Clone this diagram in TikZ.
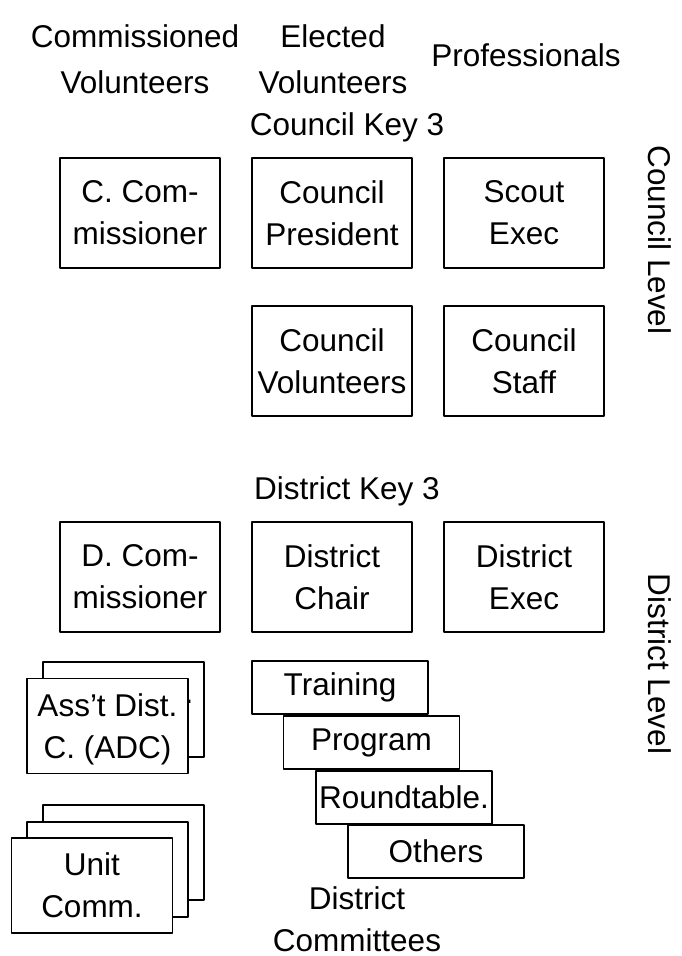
\documentclass[tikz,border=0pt]{standalone}
\usepackage{fontspec}
\setmainfont{Liberation Sans}
\usetikzlibrary{positioning}

\begin{document}
\begin{tikzpicture}[x=1pt,y=-1pt,line join=round,
  txt/.style={align=center,inner sep=0pt,font=\fontsize{31.5}{42}\selectfont},
  head/.style={txt,font=\fontsize{31.5}{46}\selectfont},
  box/.style={txt,draw,line width=1.5pt,fill=white,minimum width=160pt,minimum height=110pt},
  stackbox/.style={box,minimum width=161pt,minimum height=95pt},
  combox/.style={box,minimum width=176pt,minimum height=53pt}]
\useasboundingbox (0,0) rectangle (682,956);
% column heads
\node[head] (commvol) at (135,59) {Commissioned\\Volunteers};
\node[head] (electvol) at (333,59) {Elected\\Volunteers};
\node[txt] (prof) at (526,55) {Professionals};
% council level
\node[txt] (ckey) at (347,127) {Council Key 3};
\node[box] (ccomm) at (140,213) {C. Com-\\missioner};
\node[box] (cpres) at (332,213) {Council\\President};
\node[box] (sexec) at (524,213) {Scout\\Exec};
\node[box] (cvol) at (332,361) {Council\\Volunteers};
\node[box] (cstaff) at (524,361) {Council\\Staff};
\node[txt,rotate=-90] (clevel) at (660,240) {Council Level};
% district level
\node[txt] (dkey) at (347,491) {District Key 3};
\node[box] (dcomm) at (140,577) {D. Com-\\missioner};
\node[box] (dchair) at (332,577) {District\\Chair};
\node[box] (dexec) at (524,577) {District\\Exec};
\node[txt,rotate=-90] (dlevel) at (660,664) {District Level};
% assistant district commissioners (back copy sits lower, hidden)
\node[stackbox] (adcb) at (123.5,709.5) {\rule{0pt}{31pt}Ass't Dist.\\C. \smash{(ADC)}};
\node[stackbox] (adc) at (107.5,726) {Ass't Dist.\\C. \smash{(ADC)}};
% unit commissioners
\node[stackbox] (unitb) at (123.5,852.5) {};
\node[stackbox] (unitm) at (107.5,869.5) {};
\node[stackbox] (unit) at (92,885.5) {Unit\\Comm.};
% district committees
\node[combox] (train) at (340,687.5) {Training};
\node[combox] (prog) at (371.5,742.5) {Program};
\node[combox] (round) at (404,797.5) {Roundtable.};
\node[combox] (others) at (436,851.5) {Others};
\node[txt] (dcomms) at (357,919) {District\\Committees};
\end{tikzpicture}
\end{document}
